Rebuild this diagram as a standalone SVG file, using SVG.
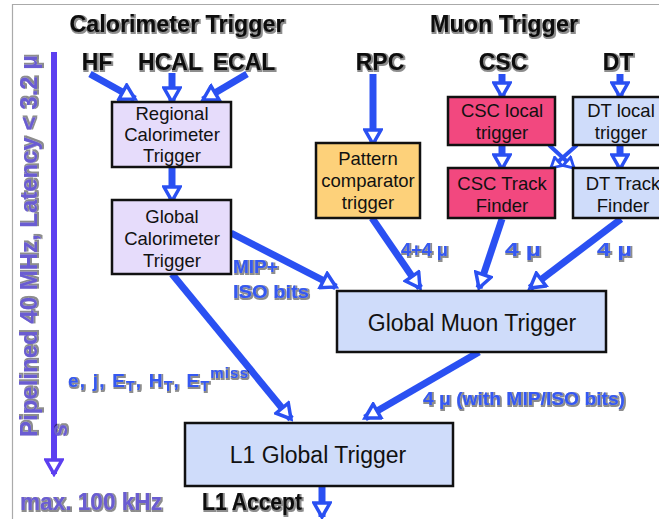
<svg xmlns="http://www.w3.org/2000/svg" width="659" height="519" viewBox="0 0 659 519">
<style>
.box{stroke:#111;stroke-width:2.5}
.bt{font-family:"Liberation Sans",Arial,sans-serif;font-size:18.5px;fill:#111;text-anchor:middle}
.big{font-family:"Liberation Sans",Arial,sans-serif;font-size:23px;fill:#111;text-anchor:middle}
.title{font-family:"Liberation Sans",Arial,sans-serif;font-size:23px;font-weight:bold;fill:#111;text-anchor:middle}
.lbl{font-family:"Liberation Sans",Arial,sans-serif;font-size:19px;font-weight:bold;fill:#3558f2}
.pur{font-family:"Liberation Sans",Arial,sans-serif;font-size:23px;font-weight:bold;fill:#6a5cd2}
.ln{stroke:#2a50f2;stroke-width:7;fill:none;marker-end:url(#ah)}
.lns{stroke:#2a50f2;stroke-width:4;fill:none;marker-end:url(#ahs)}
</style>
<defs>
<marker id="ah" viewBox="0 0 20 20" refX="17" refY="10" markerWidth="20" markerHeight="20" markerUnits="userSpaceOnUse" orient="auto">
<path d="M3,2 L17,10 L3,18 Z" fill="#fff" stroke="#2a50f2" stroke-width="3.5"/>
</marker>
<marker id="ahs" viewBox="0 0 20 20" refX="17" refY="10" markerWidth="14" markerHeight="14" markerUnits="userSpaceOnUse" orient="auto">
<path d="M3,2 L17,10 L3,18 Z" fill="#fff" stroke="#2a50f2" stroke-width="4"/>
</marker>
<marker id="ahp" viewBox="0 0 20 20" refX="17" refY="10" markerWidth="20" markerHeight="20" markerUnits="userSpaceOnUse" orient="auto">
<path d="M3,2 L17,10 L3,18 Z" fill="#fff" stroke="#5c3ff0" stroke-width="3.5"/>
</marker>
<filter id="halo" x="-10%" y="-20%" width="120%" height="150%">
<feMorphology in="SourceAlpha" operator="dilate" radius="1" result="d"/>
<feOffset in="d" dx="1" dy="1" result="o"/>
<feGaussianBlur in="o" stdDeviation="0.6" result="b"/>
<feComponentTransfer in="b" result="c"><feFuncA type="linear" slope="0.45"/></feComponentTransfer>
<feMerge><feMergeNode in="c"/><feMergeNode in="SourceGraphic"/></feMerge>
</filter>
</defs>
<rect x="0" y="0" width="659" height="519" fill="#fff"/>
<path d="M12.5,519 V4.5 H659" fill="none" stroke="#aaa" stroke-width="1.2"/>

<g id="latency">
<line x1="54" y1="52" x2="54" y2="474" stroke="#5c3ff0" stroke-width="6" marker-end="url(#ahp)"/>
<text class="pur" transform="translate(37,437) rotate(-90)" filter="url(#halo)" textLength="382" lengthAdjust="spacingAndGlyphs">Pipelined 40 MHz,  Latency &lt; 3.2 μ</text>
<text class="pur" transform="translate(67,437) rotate(-90)" filter="url(#halo)">s</text>
<text class="pur" x="20" y="510" font-size="21" filter="url(#halo)" textLength="142" lengthAdjust="spacingAndGlyphs">max. 100 kHz</text>
</g>

<g id="titles" filter="url(#halo)">
<text class="title" x="177" y="32" textLength="215" lengthAdjust="spacingAndGlyphs">Calorimeter Trigger</text>
<text class="title" x="504" y="32" textLength="148" lengthAdjust="spacingAndGlyphs">Muon Trigger</text>
<text class="title" x="97" y="70">HF</text>
<text class="title" x="170" y="70">HCAL</text>
<text class="title" x="244" y="70">ECAL</text>
<text class="title" x="380" y="70">RPC</text>
<text class="title" x="503" y="70">CSC</text>
<text class="title" x="618" y="70">DT</text>
</g>

<g id="connectors">
<line class="ln" x1="90" y1="74" x2="135" y2="99"/>
<line class="ln" x1="172" y1="73" x2="172" y2="102"/>
<line class="ln" x1="247" y1="74" x2="203" y2="100"/>
<line class="ln" x1="172" y1="167" x2="172" y2="201"/>
<line class="ln" x1="373" y1="74" x2="373" y2="144"/>
<line class="ln" x1="502" y1="74" x2="502" y2="97"/>
<line class="ln" x1="620" y1="74" x2="620" y2="97"/>
<line class="ln" x1="502" y1="145" x2="502" y2="169"/>
<line class="ln" x1="620" y1="145" x2="620" y2="169"/>
<line class="lns" x1="549" y1="145" x2="574" y2="168"/>
<line class="lns" x1="577" y1="145" x2="551" y2="168"/>
<line class="ln" x1="231" y1="233" x2="336" y2="287"/>
<line class="ln" x1="172" y1="274" x2="291" y2="419"/>
<line class="ln" x1="372" y1="218" x2="420" y2="288"/>
<line class="ln" x1="502" y1="219" x2="479" y2="288"/>
<line class="ln" x1="621" y1="219" x2="530" y2="288"/>
<line class="ln" x1="479" y1="352" x2="365" y2="418"/>
<line class="ln" x1="322" y1="486" x2="322" y2="517"/>
</g>

<g id="regional-calo">
<rect class="box" x="112" y="102" width="119" height="65" fill="#e6dcfb"/>
<text class="bt" x="172" y="120">Regional</text>
<text class="bt" x="172" y="141">Calorimeter</text>
<text class="bt" x="172" y="162">Trigger</text>
</g>
<g id="global-calo">
<rect class="box" x="112" y="200" width="119" height="74" fill="#e6dcfb"/>
<text class="bt" x="172" y="223">Global</text>
<text class="bt" x="172" y="245">Calorimeter</text>
<text class="bt" x="172" y="267">Trigger</text>
</g>
<g id="pattern">
<rect class="box" x="316" y="143" width="104" height="75" fill="#fdd17a"/>
<text class="bt" x="368" y="165">Pattern</text>
<text class="bt" x="368" y="187">comparator</text>
<text class="bt" x="368" y="209">trigger</text>
</g>
<g id="csc-local">
<rect class="box" x="448" y="97" width="107" height="48" fill="#f2487f"/>
<text class="bt" x="502" y="117">CSC local</text>
<text class="bt" x="502" y="139">trigger</text>
</g>
<g id="dt-local">
<rect class="box" x="573" y="97" width="100" height="48" fill="#cfdcfa"/>
<text class="bt" x="621" y="117">DT local</text>
<text class="bt" x="621" y="139">trigger</text>
</g>
<g id="csc-tf">
<rect class="box" x="448" y="168" width="107" height="50" fill="#f2487f"/>
<text class="bt" x="502" y="190">CSC Track</text>
<text class="bt" x="502" y="212">Finder</text>
</g>
<g id="dt-tf">
<rect class="box" x="573" y="168" width="100" height="50" fill="#cfdcfa"/>
<text class="bt" x="623" y="190">DT Track</text>
<text class="bt" x="623" y="212">Finder</text>
</g>
<g id="gmt">
<rect class="box" x="337" y="291" width="269" height="61" fill="#cfdcfa"/>
<text class="big" x="472" y="331">Global Muon Trigger</text>
</g>
<g id="l1gt">
<rect class="box" x="185" y="423" width="268" height="63" fill="#cfdcfa"/>
<text class="big" x="318" y="463">L1 Global Trigger</text>
</g>

<g id="labels" filter="url(#halo)">
<text class="lbl" x="233" y="273">MIP+</text>
<text class="lbl" x="233" y="298" textLength="76" lengthAdjust="spacingAndGlyphs">ISO bits</text>
<text class="lbl" x="401" y="256" font-size="21" textLength="47" lengthAdjust="spacingAndGlyphs">4+4 μ</text>
<text class="lbl" x="505" y="256" font-size="21" textLength="36" lengthAdjust="spacingAndGlyphs">4 μ</text>
<text class="lbl" x="597" y="256" font-size="21" textLength="35" lengthAdjust="spacingAndGlyphs">4 μ</text>
<text class="lbl" x="68" y="387" font-size="21" textLength="180" lengthAdjust="spacing">e, j, E<tspan font-size="14" dy="4">T</tspan><tspan dy="-4">, H</tspan><tspan font-size="14" dy="4">T</tspan><tspan dy="-4">, E</tspan><tspan font-size="14" dy="4">T</tspan><tspan font-size="15" dy="-13">miss</tspan></text>
<text class="lbl" x="423" y="405" textLength="202" lengthAdjust="spacingAndGlyphs">4 μ (with MIP/ISO bits)</text>
<text class="title" x="252" y="510" font-size="22" textLength="100" lengthAdjust="spacingAndGlyphs">L1 Accept</text>
</g>
</svg>
